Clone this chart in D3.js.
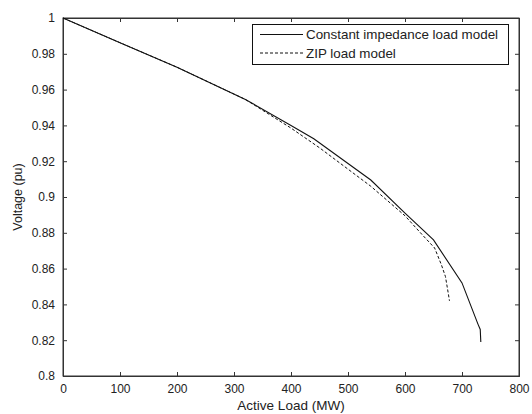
<!DOCTYPE html>
<html>
<head>
<meta charset="utf-8">
<script src="https://cdn.jsdelivr.net/npm/d3@7"></script>
<style>
html,body{margin:0;padding:0;background:#fff;}
text{font-family:"Liberation Sans",Arial,sans-serif;fill:#222;}
</style>
</head>
<body>
<svg id="chart" width="532" height="414"></svg>
<script>
// Data
const xTicks = [0, 100, 200, 300, 400, 500, 600, 700, 800];
const yTicks = [0.8, 0.82, 0.84, 0.86, 0.88, 0.9, 0.92, 0.94, 0.96, 0.98, 1];
const yTickLabels = ["0.8", "0.82", "0.84", "0.86", "0.88", "0.9", "0.92", "0.94", "0.96", "0.98", "1"];
const seriesNames = ["Constant impedance load model", "ZIP load model"];
const constLoad = [0, 100, 200, 320, 400, 440, 540, 600, 650, 700, 728, 732, 733];
const constVolt = [1.0, 0.9862, 0.9725, 0.9545, 0.940, 0.9325, 0.9095, 0.891, 0.876, 0.852, 0.829, 0.826, 0.819];
const zipLoad = [0, 100, 200, 320, 400, 450, 540, 600, 630, 652, 664, 671, 676, 678];
const zipVolt = [1.0, 0.9862, 0.9725, 0.9545, 0.9385, 0.9275, 0.906, 0.8895, 0.879, 0.8715, 0.862, 0.8555, 0.846, 0.842];

const svg = d3.select("#chart");
const L = 63, R = 519, T = 18, B = 376;
const x = d3.scaleLinear().domain([0, 800]).range([L, R]);
const y = d3.scaleLinear().domain([0.8, 1]).range([B, T]);
const axisColor = "#333";

// frame
svg.append("rect").attr("x", L).attr("y", T).attr("width", R - L).attr("height", B - T)
  .attr("fill", "none").attr("stroke", axisColor).attr("stroke-width", 1);

// axes (inward ticks)
const fmtY = d => yTickLabels[yTicks.indexOf(d)];
const gx = svg.append("g").attr("transform", `translate(0,${B})`)
  .call(d3.axisBottom(x).tickValues(xTicks).tickSize(-4).tickPadding(8).tickFormat(d3.format("d")));
const gxt = svg.append("g").attr("transform", `translate(0,${T})`)
  .call(d3.axisTop(x).tickValues(xTicks).tickSize(-4).tickFormat(""));
const gy = svg.append("g").attr("transform", `translate(${L},0)`)
  .call(d3.axisLeft(y).tickValues(yTicks).tickSize(-4).tickPadding(8).tickFormat(fmtY));
const gyr = svg.append("g").attr("transform", `translate(${R},0)`)
  .call(d3.axisRight(y).tickValues(yTicks).tickSize(-4).tickFormat(""));
[gx, gxt, gy, gyr].forEach(g => {
  g.select(".domain").attr("stroke", axisColor);
  g.selectAll(".tick line").attr("stroke", axisColor);
  g.selectAll("text").attr("font-size", 12).attr("fill", "#222")
    .style("font-family", "'Liberation Sans', Arial, sans-serif");
});

// axis labels
svg.append("text").attr("x", (L + R) / 2).attr("y", 410).attr("text-anchor", "middle")
  .attr("font-size", 13.5).text("Active Load (MW)");
svg.append("text").attr("transform", `translate(22,${(T + B) / 2}) rotate(-90)`)
  .attr("text-anchor", "middle").attr("font-size", 12.5).text("Voltage (pu)");

// lines
const line = d3.line().x(d => x(d[0])).y(d => y(d[1]));
const constData = constLoad.map((v, i) => [v, constVolt[i]]);
const zipData = zipLoad.map((v, i) => [v, zipVolt[i]]);
svg.append("path").datum(zipData).attr("d", line).attr("fill", "none")
  .attr("stroke", "#111").attr("stroke-width", 1).attr("stroke-dasharray", "3,2");
svg.append("path").datum(constData).attr("d", line).attr("fill", "none")
  .attr("stroke", "#111").attr("stroke-width", 1.1);

// legend
const lg = svg.append("g");
lg.append("rect").attr("x", 252.5).attr("y", 24.5).attr("width", 256).attr("height", 40)
  .attr("fill", "#fff").attr("stroke", "#111").attr("stroke-width", 1);
const rows = [{y: 34.5, dash: null}, {y: 53, dash: "3,2"}];
rows.forEach((r, i) => {
  lg.append("line").attr("x1", 260).attr("x2", 303).attr("y1", r.y).attr("y2", r.y)
    .attr("stroke", "#111").attr("stroke-width", 1).attr("stroke-dasharray", r.dash);
  lg.append("text").attr("x", 306).attr("y", r.y + 4.5).attr("font-size", 13.4).text(seriesNames[i]);
});
</script>
</body>
</html>
